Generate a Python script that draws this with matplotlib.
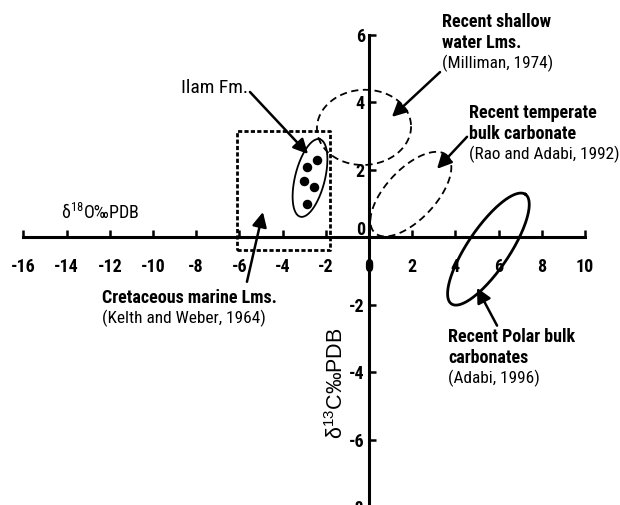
import numpy as np
import matplotlib
matplotlib.use('Agg')
import matplotlib.pyplot as plt
from matplotlib.transforms import ScaledTranslation

plt.rcParams['font.family'] = ['Roboto Condensed', 'PT Sans Narrow', 'Liberation Sans', 'DejaVu Sans']
plt.rcParams['mathtext.fontset'] = 'custom'
plt.rcParams['mathtext.rm'] = 'Roboto Condensed'
plt.rcParams['mathtext.default'] = 'regular'

# axes ticks
x_ticks = [-16, -14, -12, -10, -8, -6, -4, -2, 0, 2, 4, 6, 8, 10]
y_ticks = [-8, -6, -4, -2, 0, 2, 4, 6]

# Ilam Fm. samples (d18O, d13C)
ilam_d18o = [-2.41, -2.87, -3.01, -2.55, -2.87]
ilam_d13c = [2.29, 2.09, 1.67, 1.49, 0.99]

# fields: centre x, centre y, half-axes a, b (in d18O units), angle in degrees
ilam_field = (-2.73, 1.76, 1.85, 0.69, 76)
shallow_field = (-0.23, 3.26, 2.18, 1.74, 3)
temperate_field = (1.94, 1.28, 2.45, 1.16, 47)
polar_field = (5.53, -0.35, 3.06, 0.97, 56)

# Cretaceous marine box
cret_x = [-6.1, -1.8]
cret_y = [-0.38, 3.15]

# labels: lines (text, weight), anchor of first line
notes = [
    ([('Recent shallow', 'bold'), ('water Lms.', 'bold'), ('(Milliman, 1974)', 'normal')], (3.38, 6.39)),
    ([('Recent temperate', 'bold'), ('bulk carbonate', 'bold'), ('(Rao and Adabi, 1992)', 'normal')], (4.63, 3.69)),
    ([('Cretaceous marine Lms.', 'bold'), ('(Kelth and Weber, 1964)', 'normal')], (-12.36, -1.80)),
    ([('Recent Polar bulk', 'bold'), ('carbonates', 'bold'), ('(Adabi, 1996)', 'normal')], (3.66, -2.96)),
]
# arrows: tail -> head
arrows = [
    ((-5.51, 4.31), (-2.82, 2.47)),
    ((3.29, 4.90), (1.06, 3.57)),
    ((4.54, 2.98), (3.15, 2.03)),
    ((-5.65, -1.32), (-4.91, 0.75)),
    ((5.93, -2.62), (5.00, -1.50)),
]

fig = plt.figure(figsize=(6.2, 5.05), dpi=100)
ax = fig.add_axes([0.0377, -0.004, 0.9058, 0.9347])
ax.set_xlim(-16, 10)
ax.set_ylim(-8, 6)

# pixel size of one y unit over one x unit
ry = (5.05 * 0.9347 / 14) / (6.2 * 0.9058 / 26)


def ellipse(cx, cy, a, b, ang):
    t = np.linspace(0, 2 * np.pi, 300)
    th = np.radians(ang)
    dx = a * np.cos(t) * np.cos(th) - b * np.sin(t) * np.sin(th)
    dy = a * np.cos(t) * np.sin(th) + b * np.sin(t) * np.cos(th)
    return cx + dx, cy + dy / ry


for sp in ['top', 'right']:
    ax.spines[sp].set_visible(False)
for sp in ['left', 'bottom']:
    ax.spines[sp].set_position(('data', 0))
    ax.spines[sp].set_linewidth(2.2)

ax.set_xticks(x_ticks)
ax.set_yticks(y_ticks)
ax.set_xticklabels([str(v) for v in x_ticks])
ax.set_yticklabels([str(v) for v in y_ticks])
ax.tick_params(axis='x', direction='in', length=5, width=1.8, pad=15, labelsize=13)
ax.tick_params(axis='y', direction='in', length=5, width=1.8, pad=3, labelsize=13)
for lab in ax.get_xticklabels() + ax.get_yticklabels():
    lab.set_fontweight('bold')
# y tick label 0 sits above the axis
lab0 = ax.get_yticklabels()[y_ticks.index(0)]
lab0.set_transform(lab0.get_transform() + ScaledTranslation(0, 7 / 72, fig.dpi_scale_trans))

# box
ax.plot([cret_x[0], cret_x[1], cret_x[1], cret_x[0], cret_x[0]],
        [cret_y[0], cret_y[0], cret_y[1], cret_y[1], cret_y[0]],
        color='black', lw=2.0, dashes=(1.5, 0.8), clip_on=False)

ex, ey = ellipse(*ilam_field)
ax.plot(ex, ey, color='black', lw=1.3)
ex, ey = ellipse(*shallow_field)
ax.plot(ex, ey, color='black', lw=1.3, dashes=(4, 2.5))
ex, ey = ellipse(*temperate_field)
ax.plot(ex, ey, color='black', lw=1.3, dashes=(4, 2.5))
ex, ey = ellipse(*polar_field)
ax.plot(ex, ey, color='black', lw=2.0)

ax.scatter(ilam_d18o, ilam_d13c, s=34, color='black', zorder=3)

for tail, head in arrows:
    ax.annotate('', xy=head, xytext=tail, annotation_clip=False,
                arrowprops=dict(arrowstyle='-|>', color='black', lw=1.8,
                                mutation_scale=22, shrinkA=0, shrinkB=0))

for lines, (x, y) in notes:
    for i, (txt, w) in enumerate(lines):
        fs = 13 if w == 'bold' else 12.4
        ax.annotate(txt, xy=(x, y), xytext=(0, -15 * i), textcoords='offset points',
                    ha='left', va='center', fontsize=fs, fontweight=w,
                    annotation_clip=False)

ax.text(-5.60, 4.43, 'Ilam Fm.', ha='right', va='center', fontsize=14)

ax.text(-12.45, 0.72, 'δ$^{18}$O‰PDB', ha='center', va='center', fontsize=13)
ax.text(-1.48, -4.32, 'δ$^{13}$C‰PDB', ha='center', va='center', fontsize=15.5,
        rotation=90, family=['Liberation Sans', 'DejaVu Sans'],
        math_fontfamily='dejavusans')

fig.savefig('out.png', dpi=100)
